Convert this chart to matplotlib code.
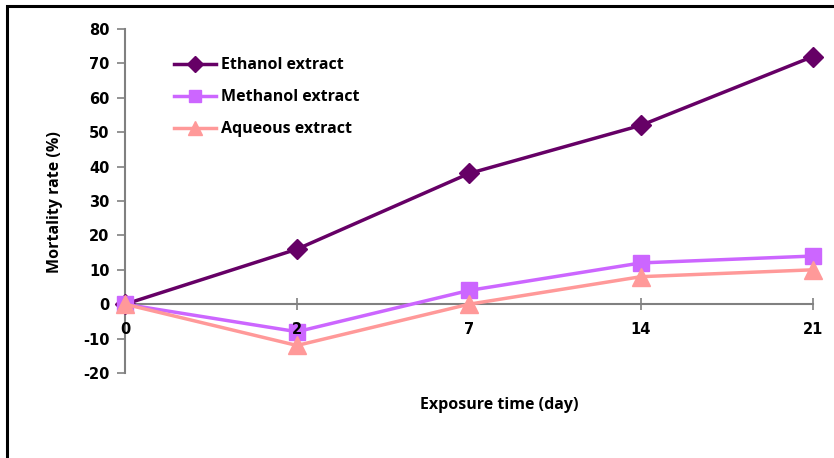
import matplotlib
matplotlib.use("Agg")
import matplotlib.pyplot as plt
from matplotlib.patches import Rectangle

plt.rcParams["axes.unicode_minus"] = False

days = ["0", "2", "7", "14", "21"]
ethanol = [0, 16, 38, 52, 72]
methanol = [0, -8, 4, 12, 14]
aqueous = [0, -12, 0, 8, 10]
y_ticks = [-20, -10, 0, 10, 20, 30, 40, 50, 60, 70, 80]

W, H = 834, 458
fig = plt.figure(figsize=(W / 100, H / 100), dpi=100)
fig.patch.set_facecolor("white")

# outer chart border
fig.patches.append(Rectangle((7 / W, -0.05), 1.2, 1 - 6 / H + 0.05,
                             transform=fig.transFigure, fill=False,
                             edgecolor="black", linewidth=2.2))

ax = fig.add_axes([125 / W, 1 - 373 / H, 688 / W, 344 / H])
x = list(range(len(days)))

ax.plot(x, ethanol, color="#660066", lw=2.5, marker="D", ms=10,
        label="Ethanol extract", clip_on=False, zorder=3)
ax.plot(x, methanol, color="#CC66FF", lw=2.5, marker="s", ms=11,
        label="Methanol extract", clip_on=False, zorder=4)
ax.plot(x, aqueous, color="#FF9999", lw=2.5, marker="^", ms=13,
        label="Aqueous extract", clip_on=False, zorder=5)

ax.set_xlim(0, 4)
ax.set_ylim(-20, 80)
ax.set_yticks(y_ticks)
ax.set_xticks(x)
ax.set_xticklabels([])

for s in ["top", "right"]:
    ax.spines[s].set_visible(False)
ax.spines["bottom"].set_position(("data", 0))
for s in ["left", "bottom"]:
    ax.spines[s].set_color("#808080")
    ax.spines[s].set_linewidth(1.5)

ax.tick_params(axis="y", direction="out", length=6, width=1.2, color="#808080",
               labelsize=10.5, pad=5)
ax.tick_params(axis="x", direction="inout", length=8, width=1.2, color="#808080")
for lab in ax.get_yticklabels():
    lab.set_fontweight("bold")

# category labels below the zero line, drawn above the markers
for i, d in zip(x, days):
    ax.annotate(d, xy=(i, 0), xytext=(0, -18), textcoords="offset points",
                ha="center", va="center", fontsize=10.5, fontweight="bold",
                zorder=10, annotation_clip=False)

fig.text(55 / W, 1 - 202 / H, "Mortality rate (%)", rotation=90, ha="center",
         va="center", fontsize=11.5, fontweight="bold", family="Open Sans")
fig.text(499 / W, 1 - 405 / H, "Exposure time (day)", ha="center", va="center",
         fontsize=11.5, fontweight="bold", family="Open Sans")

leg = ax.legend(loc="upper left", bbox_to_anchor=(160 / W, 1 - 43 / H),
                bbox_transform=fig.transFigure, frameon=False,
                handlelength=2.6, handletextpad=0.3, labelspacing=1.0,
                prop={"family": "Open Sans", "weight": "bold", "size": 11.5},
                markerscale=0.8)

fig.savefig("out.png", dpi=100, facecolor="white")
